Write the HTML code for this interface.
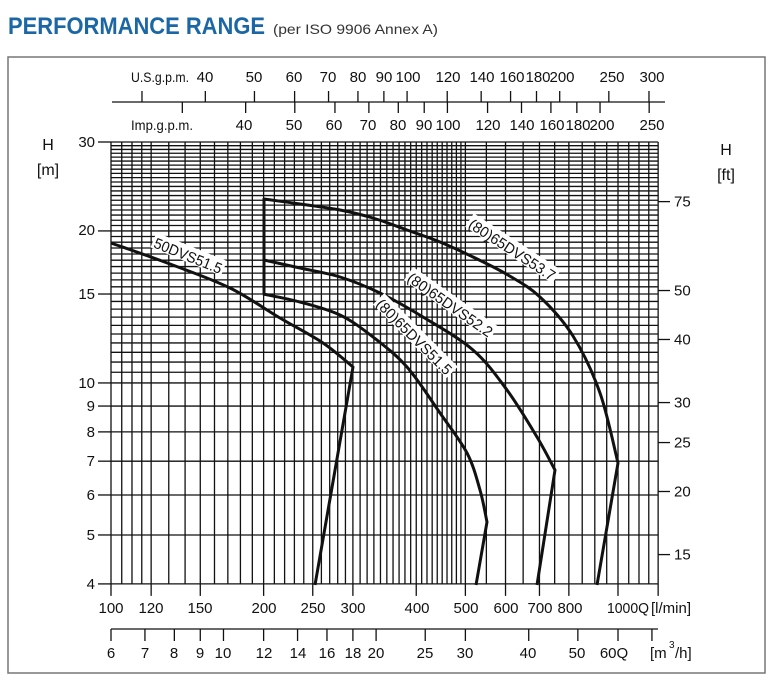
<!DOCTYPE html>
<html><head><meta charset="utf-8"><style>
html,body{margin:0;padding:0;background:#fff;}
svg{display:block;font-family:"Liberation Sans Narrow","Liberation Sans",sans-serif;}
</style></head><body>
<svg id="s" width="777" height="697" viewBox="0 0 777 697" xmlns="http://www.w3.org/2000/svg">
<text x="8" y="34" font-size="24" font-weight="bold" fill="#1b67a6" textLength="257" lengthAdjust="spacingAndGlyphs" font-family="Liberation Sans">PERFORMANCE RANGE</text>
<text x="273" y="34" font-size="14" fill="#333" textLength="165" lengthAdjust="spacingAndGlyphs" font-family="Liberation Sans">(per ISO 9906 Annex A)</text>
<rect x="8" y="57" width="757" height="616" fill="none" stroke="#777" stroke-width="1.5"/>
<g id="grid" stroke="#111" stroke-width="1.3"></g>
<g id="ticks" stroke="#111" stroke-width="1.3"></g>
<g fill="#111" font-size="15" text-anchor="middle">
<text x="160" y="82" font-size="14" textLength="58" lengthAdjust="spacingAndGlyphs">U.S.g.p.m.</text>
<text x="205" y="82">40</text><text x="254" y="82">50</text><text x="294" y="82">60</text><text x="328" y="82">70</text><text x="358" y="82">80</text><text x="384" y="82">90</text><text x="408" y="82">100</text><text x="448" y="82">120</text><text x="482" y="82">140</text><text x="512" y="82">160</text><text x="538" y="82">180</text><text x="562" y="82">200</text><text x="612" y="82">250</text><text x="652" y="82">300</text>
<text x="162" y="130" font-size="14" textLength="62" lengthAdjust="spacingAndGlyphs">Imp.g.p.m.</text>
<text x="244" y="130">40</text><text x="294" y="130">50</text><text x="334" y="130">60</text><text x="368" y="130">70</text><text x="398" y="130">80</text><text x="424" y="130">90</text><text x="448" y="130">100</text><text x="488" y="130">120</text><text x="522" y="130">140</text><text x="552" y="130">160</text><text x="578" y="130">180</text><text x="602" y="130">200</text><text x="652" y="130">250</text>
<text x="111" y="613">100</text><text x="151" y="613">120</text><text x="200" y="613">150</text><text x="264" y="613">200</text><text x="313" y="613">250</text><text x="353" y="613">300</text><text x="417" y="613">400</text><text x="466" y="613">500</text><text x="506" y="613">600</text><text x="540" y="613">700</text><text x="570" y="613">800</text>
<text x="607" y="613" text-anchor="start" textLength="42" lengthAdjust="spacingAndGlyphs">1000Q</text><text x="651" y="613" text-anchor="start" textLength="40" lengthAdjust="spacingAndGlyphs">[l/min]</text>
<text x="111" y="658">6</text><text x="145" y="658">7</text><text x="174" y="658">8</text><text x="200" y="658">9</text><text x="223" y="658">10</text><text x="264" y="658">12</text><text x="298" y="658">14</text><text x="327" y="658">16</text><text x="353" y="658">18</text><text x="376" y="658">20</text><text x="425" y="658">25</text><text x="465" y="658">30</text><text x="528" y="658">40</text><text x="577" y="658">50</text><text x="614" y="658">60Q</text>
<text x="650" y="658" text-anchor="start">[m</text><text x="669" y="648" font-size="10" text-anchor="start">3</text><text x="675" y="658" text-anchor="start">/h]</text>
</g>
<g fill="#111" font-size="15" text-anchor="end">
<text x="95" y="147">30</text><text x="95" y="235">20</text><text x="95" y="299">15</text><text x="95" y="388">10</text><text x="95" y="411">9</text><text x="95" y="437">8</text><text x="95" y="466">7</text><text x="95" y="500">6</text><text x="95" y="540">5</text><text x="95" y="589">4</text>
</g>
<g fill="#111" font-size="16" text-anchor="middle">
<text x="48" y="150">H</text><text x="48" y="175">[m]</text>
<text x="726" y="155">H</text><text x="726" y="180">[ft]</text>
</g>
<g fill="#111" font-size="15" id="ftl"></g>
<g id="curves" fill="none" stroke="#111" stroke-width="3" stroke-linejoin="round"></g>
<g font-size="15" fill="#111" text-anchor="middle" font-family="Liberation Sans">
<g transform="translate(188,256) rotate(22)"><rect x="-38" y="-10" width="76" height="16" fill="#fff"/><text y="5" textLength="72" lengthAdjust="spacingAndGlyphs">50DVS51.5</text></g>
<g transform="translate(512,250) rotate(33)"><rect x="-52" y="-10" width="104" height="16" fill="#fff"/><text y="5" textLength="100" lengthAdjust="spacingAndGlyphs">(80)65DVS53.7</text></g>
<g transform="translate(450,305) rotate(35)"><rect x="-52" y="-10" width="104" height="16" fill="#fff"/><text y="5" textLength="100" lengthAdjust="spacingAndGlyphs">(80)65DVS52.2</text></g>
<g transform="translate(414,337) rotate(45)"><rect x="-52" y="-10" width="104" height="16" fill="#fff"/><text y="5" textLength="100" lengthAdjust="spacingAndGlyphs">(80)65DVS51.5</text></g>
</g>
</svg>
<script>
(function(){
var NS="http://www.w3.org/2000/svg";
function X(q){return 111+507*Math.log10(q/100);}
function Y(h){return 142+505*Math.log10(30/h);}
function L(g,x1,y1,x2,y2){var l=document.createElementNS(NS,"line");l.setAttribute("x1",x1);l.setAttribute("y1",y1);l.setAttribute("x2",x2);l.setAttribute("y2",y2);g.appendChild(l);}
var g=document.getElementById("grid"),t=document.getElementById("ticks");
var xr=X(1200),yb=Y(4);
var qs=[];for(var q=100;q<120;q+=5)qs.push(q);for(q=120;q<500;q+=10)qs.push(q);for(q=500;q<=1200;q+=50)qs.push(q);
qs.forEach(function(q){L(g,X(q),142,X(q),yb);});
var hs=[4,5,6,7,8,9];for(var h=10;h<=30;h+=0.5)hs.push(h);
hs.forEach(function(h){L(g,111,Y(h),xr,Y(h));});
[4,5,6,7,8,9,10,15,20,30].forEach(function(h){L(t,98,Y(h),111,Y(h));});
[100,120,150,200,250,300,400,500,600,700,800,1000,1200].forEach(function(q){L(t,X(q),yb,X(q),yb+12);});
L(t,112,102,665,102);
[30,40,50,60,70,80,90,100,120,140,160,180,200,250,300].forEach(function(v){var x=X(v*3.785)+3;L(t,x,91,x,102);});
[30,40,50,60,70,80,90,100,120,140,160,180,200,250].forEach(function(v){var x=X(v*4.546)+3;L(t,x,102,x,113);});
L(t,111,629,658,629);
[6,7,8,9,10,12,14,16,18,20,25,30,40,50,60,70].forEach(function(v){var x=X(v*1000/60);L(t,x,629,x,641);});
var fl=document.getElementById("ftl");
[75,50,40,30,25,20,15].forEach(function(f){var y=Y(f*0.3048);L(t,658,y,670,y);var tx=document.createElementNS(NS,"text");tx.setAttribute("x",674);tx.setAttribute("y",y+5);tx.textContent=String(f);fl.appendChild(tx);});
// smooth curves
function smooth(p){var d="M"+p[0][0]+","+p[0][1];for(var i=0;i<p.length-1;i++){var p0=p[i-1]||p[i],p1=p[i],p2=p[i+1],p3=p[i+2]||p2;
var c1=[p1[0]+(p2[0]-p0[0])/6,p1[1]+(p2[1]-p0[1])/6],c2=[p2[0]-(p3[0]-p1[0])/6,p2[1]-(p3[1]-p1[1])/6];
d+=" C"+c1[0]+","+c1[1]+" "+c2[0]+","+c2[1]+" "+p2[0]+","+p2[1];}return d;}
var cg=document.getElementById("curves");
function P(d){var e=document.createElementNS(NS,"path");e.setAttribute("d",d);cg.appendChild(e);}
P(smooth([[111,243],[170,264],[230,288],[280,318],[323,343],[353,367]])+" L315,585");
P(smooth([[263,294],[300,302],[340,315],[373,337],[407,367],[440,413],[467,453],[480,490],[487,522]])+" L476,585");
P("M264,294 L264,198");
P(smooth([[264,260],[300,268],[340,277],[380,293],[423,317],[473,350],[507,390],[537,437],[555,470]])+" L537,585");
P(smooth([[264,199],[300,204],[340,210],[373,218],[407,230],[440,242],[473,257],[508,275],[540,297],[573,336],[600,393],[618,463]])+" L597,585");
})();
</script>
</body></html>
